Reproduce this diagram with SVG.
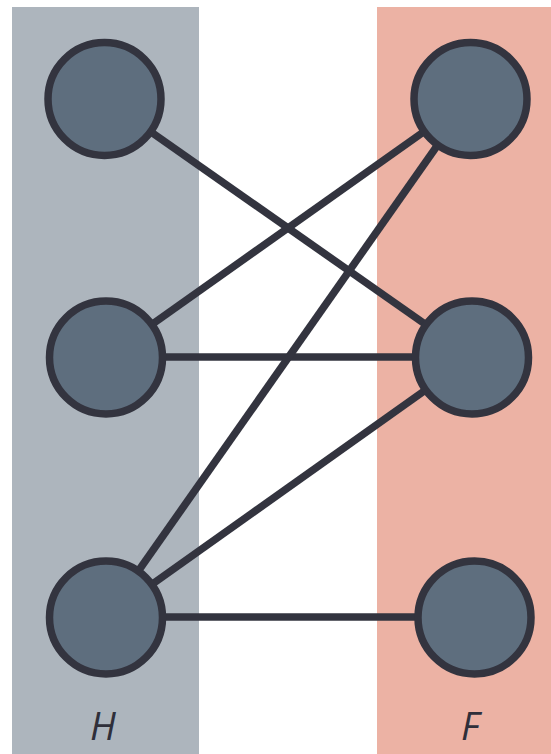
<svg xmlns="http://www.w3.org/2000/svg" width="551" height="754" viewBox="0 0 551 754">
<style>
.edge{stroke:#33343f;stroke-width:7.5;fill:none}
.node{fill:#5e6e7e;stroke:#33343f;stroke-width:7.5}
.lbl{font-family:"Open Sans","DejaVu Sans",sans-serif;font-style:italic;font-size:38px;fill:#2f2f3a;text-anchor:middle}
</style>
<rect x="0" y="0" width="551" height="754" fill="#ffffff"/>
<g id="groupH"><rect x="12" y="7" width="187" height="747" fill="#adb5bd"/><text class="lbl" x="103" y="740">H</text></g>
<g id="groupF"><rect x="377" y="7" width="174" height="747" fill="#ecb2a4"/><text class="lbl" x="470" y="740">F</text></g>
<g id="connectors">
<line class="edge" x1="104" y1="99" x2="472" y2="357"/>
<line class="edge" x1="106" y1="357" x2="470" y2="99"/>
<line class="edge" x1="106" y1="357" x2="472" y2="357"/>
<line class="edge" x1="106" y1="617" x2="470" y2="99"/>
<line class="edge" x1="106" y1="617" x2="472" y2="357"/>
<line class="edge" x1="106" y1="617" x2="474" y2="617"/>
</g>
<g id="h1"><circle class="node" cx="104.5" cy="99" r="56.5"/></g>
<g id="h2"><circle class="node" cx="106" cy="357.5" r="56.5"/></g>
<g id="h3"><circle class="node" cx="106" cy="617.5" r="56.5"/></g>
<g id="f1"><circle class="node" cx="470.5" cy="99" r="56.5"/></g>
<g id="f2"><circle class="node" cx="472" cy="357.5" r="56.5"/></g>
<g id="f3"><circle class="node" cx="474.5" cy="617.5" r="56.5"/></g>
</svg>
